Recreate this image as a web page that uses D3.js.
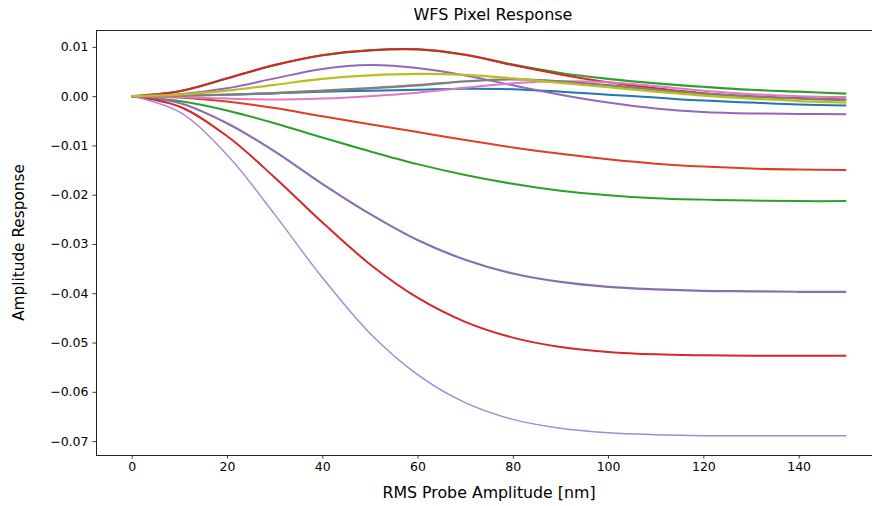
<!DOCTYPE html>
<html>
<head>
<meta charset="utf-8">
<script src="https://cdn.jsdelivr.net/npm/d3@7"></script>
<style>
  html, body { margin: 0; padding: 0; background: #fff; }
  svg { display: block; font-family: "DejaVu Sans", sans-serif; }
</style>
</head>
<body>
<svg id="chart" width="872" height="506"></svg>
<script>
// ---- data ----
const probeAmp = [0, 10, 20, 30, 40, 50, 60, 70, 80, 90, 100, 110, 120, 130, 140, 150];

const negRedSmall   = [0, -0.0003, -0.0011, -0.0024, -0.0041, -0.0057, -0.0073, -0.0089, -0.0104, -0.0117, -0.0128, -0.0137, -0.0143, -0.0147, -0.0149, -0.0150];
const negGreen      = [0, -0.0010, -0.0029, -0.0055, -0.0084, -0.0112, -0.0138, -0.0160, -0.0178, -0.0192, -0.0201, -0.0207, -0.0210, -0.0212, -0.0213, -0.0213];
const negPurple     = [0, -0.0014, -0.0055, -0.0112, -0.0178, -0.0239, -0.0292, -0.0332, -0.0360, -0.0377, -0.0387, -0.0392, -0.0395, -0.0396, -0.0397, -0.0397];
const negRedLarge   = [0, -0.0021, -0.0081, -0.0165, -0.0256, -0.0341, -0.0409, -0.0458, -0.0490, -0.0509, -0.0519, -0.0524, -0.0526, -0.0527, -0.0527, -0.0527];
const negLilac      = [0, -0.0032, -0.0119, -0.0240, -0.0368, -0.0481, -0.0565, -0.0622, -0.0656, -0.0674, -0.0683, -0.0687, -0.0689, -0.0689, -0.0689, -0.0689];

const posBlue       = [0, 0.0001, 0.0003, 0.0006, 0.0009, 0.0011, 0.0013, 0.0015, 0.0014, 0.0009, 0.0003, -0.0003, -0.0009, -0.0013, -0.0017, -0.0019];
const posGreen      = [0, 0.0010, 0.0036, 0.0063, 0.0083, 0.0093, 0.0095, 0.0084, 0.0064, 0.0047, 0.0035, 0.0026, 0.0019, 0.0013, 0.0009, 0.0005];
const posRed        = [0, 0.0010, 0.0036, 0.0063, 0.0083, 0.0093, 0.0095, 0.0084, 0.0063, 0.0044, 0.0028, 0.0016, 0.0006, 0.0000, -0.0004, -0.0007];
const posPurple     = [0, 0.0004, 0.0016, 0.0036, 0.0055, 0.0063, 0.0057, 0.0042, 0.0022, 0.0003, -0.0013, -0.0025, -0.0032, -0.0035, -0.0036, -0.0037];
const posPink       = [0, -0.0002, -0.0005, -0.0007, -0.0005, 0.0000, 0.0007, 0.0017, 0.0026, 0.0030, 0.0028, 0.0020, 0.0011, 0.0004, 0.0000, -0.0002];
const posGray       = [0, 0.0001, 0.0003, 0.0006, 0.0011, 0.0016, 0.0022, 0.0030, 0.0034, 0.0030, 0.0022, 0.0013, 0.0005, -0.0001, -0.0005, -0.0008];
const posOlive      = [0, 0.0003, 0.0011, 0.0023, 0.0035, 0.0042, 0.0045, 0.0043, 0.0036, 0.0027, 0.0018, 0.0009, 0.0001, -0.0005, -0.0010, -0.0013];

const xTicks = [0, 20, 40, 60, 80, 100, 120, 140];
const yTicks = [0.01, 0.00, -0.01, -0.02, -0.03, -0.04, -0.05, -0.06, -0.07];

const titleText = "WFS Pixel Response";
const xLabelText = "RMS Probe Amplitude [nm]";
const yLabelText = "Amplitude Response";

// ---- series (drawing order) with styles ----
const series = [
  { values: negRedSmall, color: "#e03c28", width: 2.0 },
  { values: negGreen,    color: "#2ca02c", width: 2.0 },
  { values: negPurple,   color: "#8a6fae", width: 2.2 },
  { values: negRedLarge, color: "#d62728", width: 2.0 },
  { values: negLilac,    color: "#a987d3", width: 1.4 },
  { values: posBlue,     color: "#1f77b4", width: 2.0 },
  { values: posGreen,    color: "#2ca02c", width: 2.2 },
  { values: posRed,      color: "#d62728", width: 2.0 },
  { values: posPurple,   color: "#9467bd", width: 2.0 },
  { values: posPink,     color: "#e377c2", width: 2.0 },
  { values: posGray,     color: "#7f7f7f", width: 2.4 },
  { values: posOlive,    color: "#bcbd22", width: 2.2 }
];

// ---- layout ----
const svg = d3.select("#chart");
const mLeft = 96, mTop = 30, mBottom = 455;
const mRight = 882;

const xMin = d3.min(probeAmp), xMax = d3.max(probeAmp);
const xPad = (xMax - xMin) * 0.05;
const allY = series.flatMap(s => s.values);
const yMin = d3.min(allY), yMax = d3.max(allY);
const yPad = (yMax - yMin) * 0.05;

const x = d3.scaleLinear().domain([xMin - xPad, xMax + xPad]).range([mLeft, mRight]);
const y = d3.scaleLinear().domain([yMin - yPad, yMax + yPad]).range([mBottom, mTop]);

// lines
const line = d3.line()
  .x((d, i) => x(probeAmp[i]))
  .y(d => y(d))
  .curve(d3.curveCatmullRom.alpha(0.5));

const plot = svg.append("g");
series.forEach(s => {
  plot.append("path")
    .attr("d", line(s.values))
    .attr("fill", "none")
    .attr("stroke", s.color)
    .attr("stroke-width", s.width)
    .attr("stroke-linejoin", "round")
    .attr("stroke-linecap", "butt");
});

// axes
const fmtY = v => d3.format(".2f")(v).replace("-", "\u2212");
const xAxis = d3.axisBottom(x).tickValues(xTicks).tickSize(3.5).tickPadding(4).tickFormat(d3.format("d"));
const yAxis = d3.axisLeft(y).tickValues(yTicks).tickSize(3.5).tickPadding(4).tickFormat(fmtY);

const gx = svg.append("g").attr("transform", `translate(0,${mBottom})`).call(xAxis);
const gy = svg.append("g").attr("transform", `translate(${mLeft},0)`).call(yAxis);
[gx, gy].forEach(g => {
  g.select(".domain").remove();
  g.selectAll(".tick line").attr("stroke", "#222").attr("stroke-width", 0.9);
  g.selectAll(".tick text").attr("fill", "#000").attr("font-size", 12.5).attr("font-family", "DejaVu Sans");
});

// spines
const spine = svg.append("g").attr("fill", "none").attr("stroke", "#222").attr("stroke-width", 1);
spine.append("line").attr("x1", mLeft + 0.5).attr("x2", mLeft + 0.5).attr("y1", mTop).attr("y2", mBottom + 1);
spine.append("line").attr("x1", mLeft).attr("x2", mRight).attr("y1", mBottom + 0.5).attr("y2", mBottom + 0.5);
spine.append("line").attr("x1", mLeft).attr("x2", mRight).attr("y1", mTop + 0.5).attr("y2", mTop + 0.5);
spine.append("line").attr("x1", mRight - 0.5).attr("x2", mRight - 0.5).attr("y1", mTop).attr("y2", mBottom);

// labels
const cx = (mLeft + mRight) / 2;
svg.append("text").attr("x", cx + 4).attr("y", 20).attr("text-anchor", "middle")
  .attr("font-size", 16).attr("fill", "#000").text(titleText);
svg.append("text").attr("x", cx).attr("y", 498).attr("text-anchor", "middle")
  .attr("font-size", 15.8).attr("fill", "#000").text(xLabelText);
svg.append("text").attr("transform", `translate(24,${(mTop + mBottom) / 2}) rotate(-90)`)
  .attr("text-anchor", "middle").attr("font-size", 15.3).attr("fill", "#000").text(yLabelText);
</script>
</body>
</html>
